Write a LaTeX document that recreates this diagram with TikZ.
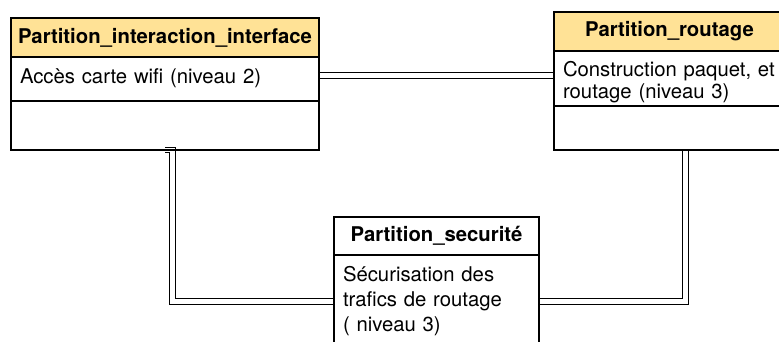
\documentclass[tikz,border=0pt]{standalone}
\usepackage{fontspec}
\setmainfont{TeX Gyre Heros}
\usetikzlibrary{positioning,backgrounds}
\definecolor{headfill}{RGB}{255,226,150}
\begin{document}
\begin{tikzpicture}[x=1pt,y=-1pt,
  every node/.style={font=\fontsize{20.3}{24.5}\selectfont,line width=1.2pt,outer sep=0pt,inner ysep=0pt,inner xsep=9pt},
  head/.style={draw,inner xsep=0pt,minimum height=38pt,font=\fontsize{20.3}{24.5}\selectfont\bfseries},
  attr/.style={draw,align=left,text width=#1},
  assoc/.style={double,double distance=4.2pt,line width=1.2pt}]
\path[use as bounding box] (0,0) rectangle (779,342);
\clip (0,0) rectangle (779,342);
% partitions
\node[head,fill=headfill,minimum width=308pt,minimum height=39pt,anchor=north west] (h1) at (11,18) {Partition\_interaction\_interface};
\node[attr=290pt,below=0pt of h1,text height=27pt,text depth=17pt] (a1) {Accès carte wifi (niveau 2)};
\node[attr=290pt,below=0pt of a1,minimum height=49pt] (e1) {};
\node[head,fill=headfill,minimum width=231pt,minimum height=39pt,anchor=north west] (h2) at (554,12) {Partition\_routage};
\node[attr=213pt,below=0pt of h2,font=\fontsize{20.3}{22}\selectfont,text height=26pt,text depth=29pt] (a2) {\mbox{Construction paquet, et}\\routage (niveau 3)};
\node[attr=213pt,below=0pt of a2,minimum height=44pt] (e2) {};
\node[head,minimum width=205pt,anchor=north west] (h3) at (334,217) {Partition\_securité};
\node[attr=187pt,below=0pt of h3,font=\fontsize{20.3}{25}\selectfont,text height=26pt,text depth=63pt] (a3) {Sécurisation des\\trafics de routage\\( niveau 3)};
% links
\coordinate (j0) at (0,75.5);
\coordinate (k1) at (165,0);
\coordinate (j1) at (172.5,301.5);
\coordinate (j2) at (685.5,301.5);
\begin{scope}[on background layer]
\draw[assoc] (a1.east |- j0) -- (a2.west |- j0);
\draw[assoc] (e1.south -| k1) -- (e1.south -| j1) |- (a3.west |- j1);
\draw[assoc] (e2.south -| j2) |- (a3.east |- j2);
\end{scope}
\end{tikzpicture}
\end{document}
